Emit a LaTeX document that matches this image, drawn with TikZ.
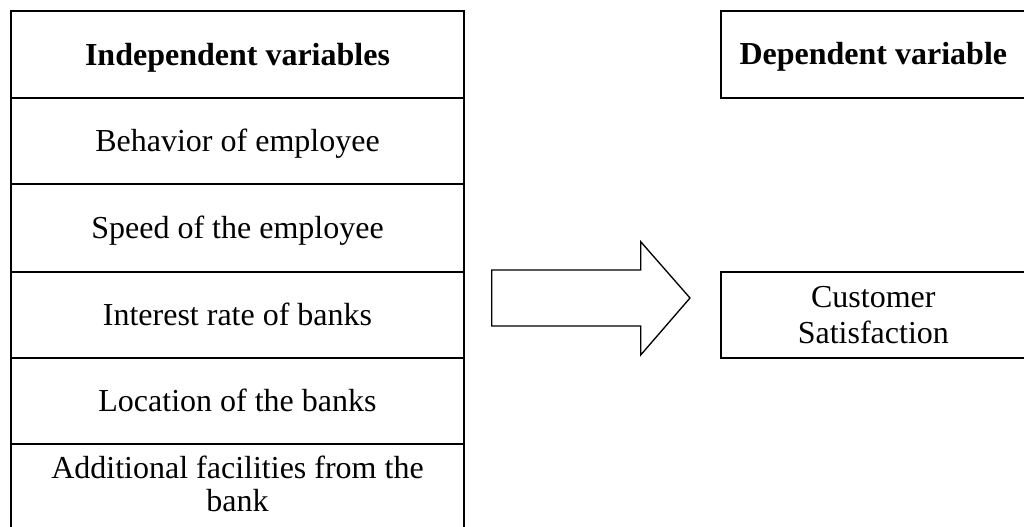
\documentclass[tikz,border=0pt]{standalone}
\usepackage{fontspec}
\setmainfont{Liberation Serif}
\begin{document}
\begin{tikzpicture}[x=0.75pt,y=-0.75pt,
  cell/.style={draw, line width=1.5pt, inner sep=0pt, minimum width=339.75pt,
    font=\fontsize{24}{27.6}\selectfont, text height=16pt, text depth=0pt},
  rbox/.style={draw, line width=1.5pt, inner sep=0pt, minimum width=229pt, minimum height=65pt,
    font=\fontsize{24}{27.6}\selectfont},
  bigarrow/.style={draw, line width=1pt, line join=miter}]
\useasboundingbox (0,0) rectangle (1024,527);
% left column
\node[cell, minimum height=65.25pt, font=\fontsize{24}{27.6}\selectfont\bfseries] (h) at (237.5,54.5) {Independent variables};
\node[cell, minimum height=64.5pt] (r1) at (237.5,141) {Behavior of employee};
\node[cell, minimum height=66pt] (r2) at (237.5,228) {Speed of the employee};
\node[cell, minimum height=64.5pt] (r3) at (237.5,315) {Interest rate of banks};
\node[cell, minimum height=64.5pt] (r4) at (237.5,401) {Location of the banks};
\node[draw, line width=1.5pt, inner sep=0pt, minimum width=339.75pt, minimum height=65.25pt] (r5) at (237.5,487.5) {};
\node[font=\fontsize{24}{24.75}\selectfont, align=center, inner sep=0pt] (r5t) at ([yshift=3pt]r5.center) {Additional facilities from the\\bank};
% right column
\node[rbox, font=\fontsize{24}{27.6}\selectfont\bfseries, text height=16pt, text depth=0pt] (dv) at (873.35,54.3) {Dependent variable};
\node[rbox, minimum height=64.5pt, align=center, font=\fontsize{24}{27}\selectfont] (cs) at (873.35,315) {Customer\\Satisfaction};
% block arrow
\coordinate (tail) at (491.7,298);
\coordinate (tip) at (690,298);
\draw[bigarrow] (tail) ++(0,-28) -- (640.7,270) -- (640.7,241.7) -- (tip) -- (640.7,355) -- (640.7,326) -- (491.7,326) -- cycle;
\end{tikzpicture}
\end{document}
